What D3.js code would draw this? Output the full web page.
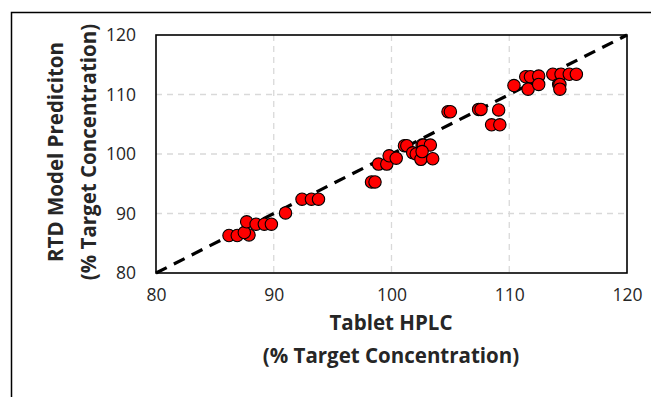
<!DOCTYPE html>
<html>
<head>
<meta charset="utf-8">
<script src="https://cdn.jsdelivr.net/npm/d3@7"></script>
<style>
  html, body { margin: 0; padding: 0; background: #fff; }
  svg { display: block; font-family: "Open Sans", "Liberation Sans", sans-serif; }
</style>
</head>
<body>
<svg id="chart" width="651" height="397"></svg>
<script>
// Tablet HPLC assay (x) vs RTD model prediction (y), % of target concentration
const hplc = [
  86.2, 86.9, 87.9, 87.5, 87.7, 88.5, 89.2, 89.8, 91.0,
  92.4, 93.2, 93.8,
  98.3, 98.6, 98.9, 99.6, 99.8, 100.4,
  101.1, 101.3, 101.8, 102.1, 102.6, 102.7, 103.3, 102.5, 103.5, 102.6,
  104.8, 105.0, 107.4, 107.6, 109.1, 108.5, 109.2,
  110.4, 111.4, 111.8, 112.5, 111.6, 112.5,
  113.7, 114.4, 115.1, 115.7, 114.2, 114.3, 114.3
];
const rtd = [
  86.3, 86.3, 86.4, 86.8, 88.6, 88.2, 88.2, 88.2, 90.1,
  92.4, 92.4, 92.4,
  95.3, 95.3, 98.3, 98.3, 99.7, 99.3,
  101.4, 101.4, 100.2, 100.0, 101.5, 101.5, 101.5, 99.1, 99.2, 100.4,
  107.1, 107.1, 107.5, 107.5, 107.4, 104.9, 104.9,
  111.5, 113.0, 113.0, 113.1, 110.9, 111.7,
  113.4, 113.4, 113.4, 113.4, 111.7, 111.7, 110.9
];
const xTicks = [80, 90, 100, 110, 120];
const yTicks = [80, 90, 100, 110, 120];
const xTitle = ["Tablet HPLC", "(% Target Concentration)"];
const yTitle = ["RTD Model Prediciton", "(% Target Concentration)"];

const svg = d3.select("#chart");
const plotL = 156, plotR = 627, plotT = 35, plotB = 273;

const x = d3.scaleLinear().domain([80, 120]).range([plotL, plotR]);
const y = d3.scaleLinear().domain([80, 120]).range([plotB, plotT]);

// outer frame
svg.append("rect")
  .attr("x", 11.5).attr("y", 12.5)
  .attr("width", 700).attr("height", 420)
  .attr("fill", "none").attr("stroke", "#000").attr("stroke-width", 1.5);

// gridlines
const grid = svg.append("g").attr("stroke", "#d9d9d9").attr("stroke-width", 1.3)
  .attr("stroke-dasharray", "6,5");
grid.selectAll("line.h").data(yTicks.slice(1, -1)).join("line")
  .attr("x1", plotL).attr("x2", plotR)
  .attr("y1", d => y(d)).attr("y2", d => y(d));
grid.selectAll("line.v").data(xTicks.slice(1, -1)).join("line")
  .attr("y1", plotT).attr("y2", plotB)
  .attr("x1", d => x(d)).attr("x2", d => x(d));

// plot frame
svg.append("rect")
  .attr("x", plotL).attr("y", plotT)
  .attr("width", plotR - plotL).attr("height", plotB - plotT)
  .attr("fill", "none").attr("stroke", "#000").attr("stroke-width", 1.6);

// axes (labels only)
const xAxis = svg.append("g").attr("transform", `translate(0,${plotB})`)
  .call(d3.axisBottom(x).tickValues(xTicks).tickSize(0).tickPadding(16));
const yAxis = svg.append("g").attr("transform", `translate(${plotL},0)`)
  .call(d3.axisLeft(y).tickValues(yTicks).tickSize(0).tickPadding(20));
[xAxis, yAxis].forEach(a => {
  a.select(".domain").remove();
  a.selectAll("text").attr("font-size", 17.5).attr("fill", "#262626")
    .attr("font-family", "'Open Sans', sans-serif");
});

// 1:1 reference line
svg.append("line")
  .attr("x1", x(80)).attr("y1", y(80))
  .attr("x2", x(120)).attr("y2", y(120))
  .attr("stroke", "#000").attr("stroke-width", 3.2)
  .attr("stroke-dasharray", "12,8");

// data points
const pts = hplc.map((h, i) => [h, rtd[i]]);
svg.append("g").selectAll("circle").data(pts).join("circle")
  .attr("cx", d => x(d[0])).attr("cy", d => y(d[1])).attr("r", 6.2)
  .attr("fill", "#ff0000").attr("stroke", "#000").attr("stroke-width", 1.1);

// axis titles
const xt = svg.append("text").attr("text-anchor", "middle")
  .attr("font-size", 20.5).attr("font-weight", "bold").attr("fill", "#262626");
xt.append("tspan").attr("x", 391).attr("y", 330).text(xTitle[0]);
xt.append("tspan").attr("x", 391).attr("y", 363).text(xTitle[1]);

const yt = svg.append("text").attr("text-anchor", "middle")
  .attr("font-size", 20.5).attr("font-weight", "bold").attr("fill", "#262626")
  .attr("transform", "translate(0,152) rotate(-90)");
yt.append("tspan").attr("x", 0).attr("y", 63).text(yTitle[0]);
yt.append("tspan").attr("x", 0).attr("y", 96).text(yTitle[1]);
</script>
</body>
</html>
